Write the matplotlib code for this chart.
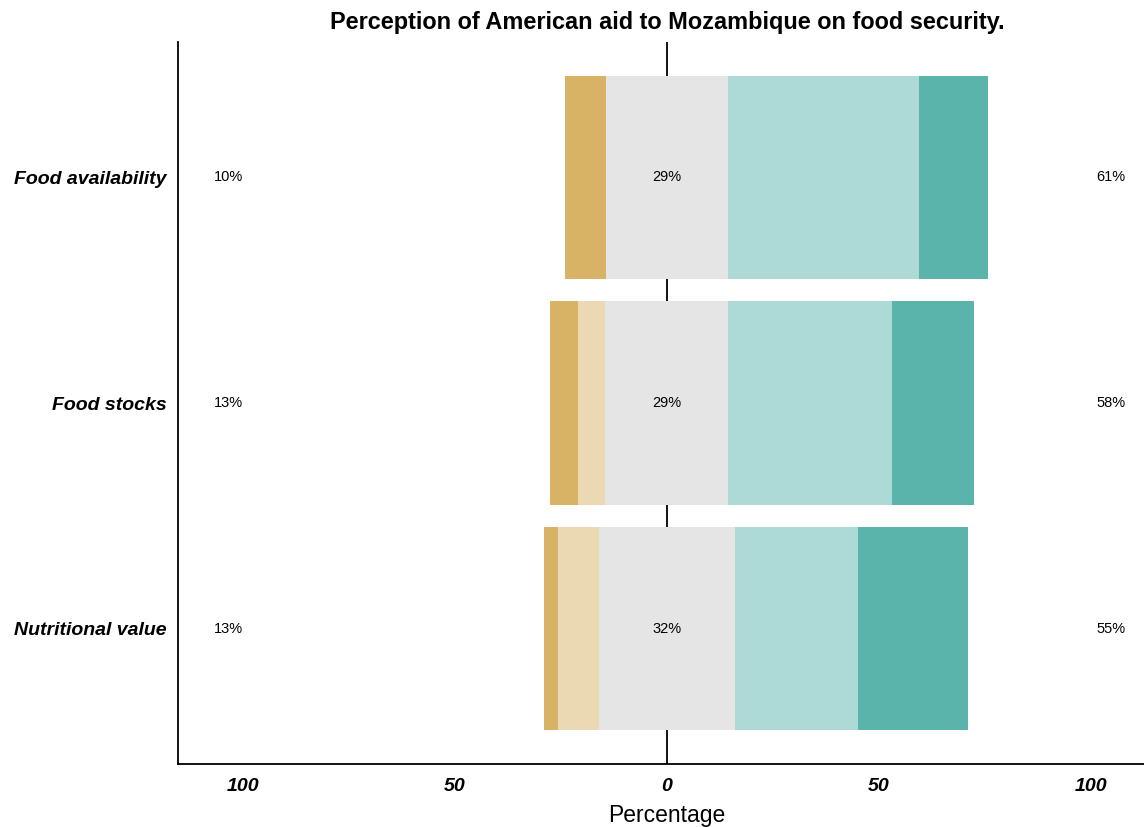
import matplotlib
matplotlib.use("Agg")
import matplotlib.pyplot as plt
import numpy as np

plt.rcParams['font.family'] = ['Liberation Sans', 'DejaVu Sans']

categories = ["Food availability", "Food stocks", "Nutritional value"]
strongly_disagree = [9.7, 6.6, 3.3]
disagree = [0.0, 6.4, 9.7]
neutral = [28.8, 29.0, 32.0]
agree = [45.0, 38.5, 29.0]
strongly_agree = [16.3, 19.3, 26.0]
low_labels = ["10%", "13%", "13%"]
mid_labels = ["29%", "29%", "32%"]
high_labels = ["61%", "58%", "55%"]
xticks = [-100, -50, 0, 50, 100]
xticklabels = ["100", "50", "0", "50", "100"]

colors = ["#D8B365", "#EBD9B3", "#E5E5E5", "#ADD9D6", "#5AB4AC"]

fig = plt.figure(figsize=(11.44, 8.27), dpi=100)
ax = fig.add_axes([178/1144, 63/827, 1 - 178/1144, (764-42)/827])

y = np.arange(len(categories))
h = 0.9
sd = np.array(strongly_disagree); d = np.array(disagree); n = np.array(neutral)
a = np.array(agree); sa = np.array(strongly_agree)

ax.axvline(0, color="black", lw=1.3, zorder=1)
ax.barh(y, -sd, left=-n/2 - d, height=h, color=colors[0], zorder=2)
ax.barh(y, -d, left=-n/2, height=h, color=colors[1], zorder=2)
ax.barh(y, n, left=-n/2, height=h, color=colors[2], zorder=2)
ax.barh(y, a, left=n/2, height=h, color=colors[3], zorder=2)
ax.barh(y, sa, left=n/2 + a, height=h, color=colors[4], zorder=2)

for i in range(len(categories)):
    ax.text(-103.3, y[i], low_labels[i], ha="center", va="center", fontsize=10.5, zorder=3)
    ax.text(0, y[i], mid_labels[i], ha="center", va="center", fontsize=10.5, zorder=3)
    ax.text(104.7, y[i], high_labels[i], ha="center", va="center", fontsize=10.5, zorder=3)

ax.set_xlim(-115.3, 112.5)
ax.set_ylim(2.6, -0.6)
ax.set_yticks(y)
ax.set_yticklabels(categories, fontsize=14, fontweight="bold", fontstyle="italic")
ax.set_xticks(xticks)
ax.set_xticklabels(xticklabels, fontsize=14, fontweight="bold", fontstyle="italic")
ax.tick_params(axis="y", length=0, pad=8)
ax.tick_params(axis="x", length=0, pad=10)
for s in ["top", "right"]:
    ax.spines[s].set_visible(False)
ax.spines["left"].set_linewidth(1.3)
ax.spines["bottom"].set_linewidth(1.3)
ax.set_xlabel("Percentage", fontsize=16.5, labelpad=7)
ax.xaxis.set_label_coords((667 - 178) / (1144 - 178), -0.055)
ax.xaxis.label.set_va("top")

fig.text(667/1144, 1 - 22/827, "Perception of American aid to Mozambique on food security.",
         ha="center", va="center", fontsize=16.9, fontweight="bold")

fig.savefig("out.png", dpi=100)
